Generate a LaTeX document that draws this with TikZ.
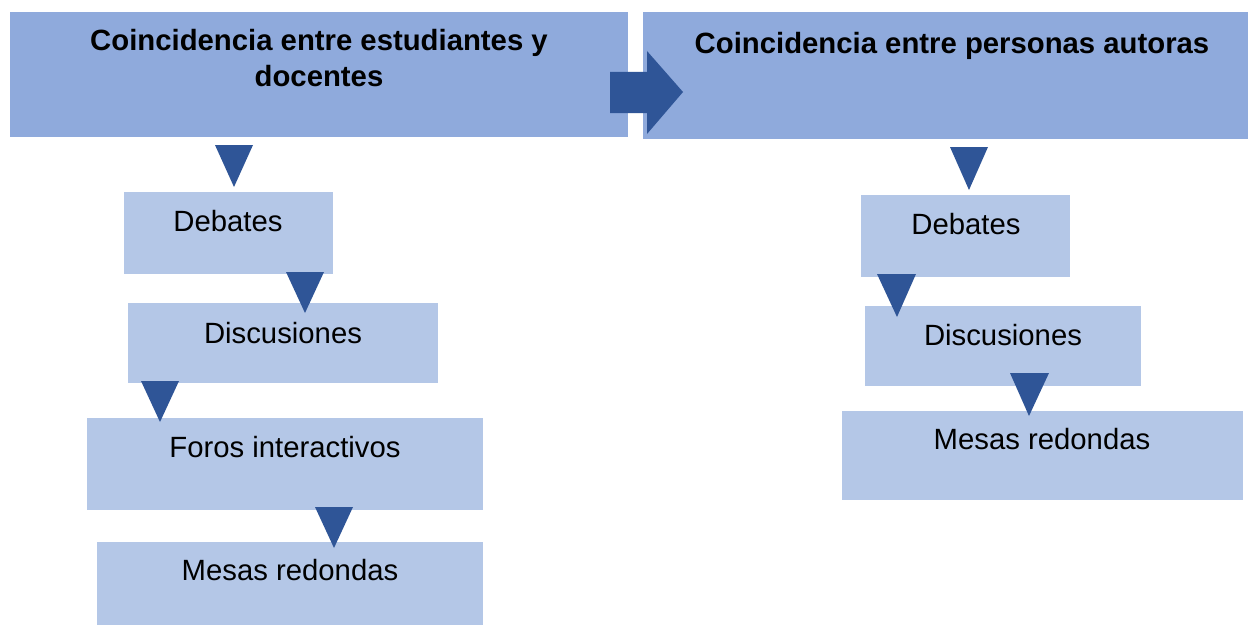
\documentclass[tikz,border=0pt]{standalone}
\usepackage{fontspec}
\setmainfont{Liberation Sans}
\definecolor{hdr}{HTML}{8FAADC}
\definecolor{bx}{HTML}{B4C7E7}
\definecolor{tri}{HTML}{2F5597}
\begin{document}
\begin{tikzpicture}[x=1pt,y=-1pt,
  hdrbox/.style={fill=hdr,draw=none,anchor=north west,inner sep=0},
  itembox/.style={fill=bx,draw=none,anchor=north west,inner sep=0},
  txt/.style={anchor=base,inner sep=0,font=\fontsize{29.3}{38}\selectfont},
  htxt/.style={anchor=base,inner sep=0,font=\fontsize{29.3}{38}\selectfont\bfseries},
  trifill/.style={fill=tri,draw=none}]
\path[use as bounding box] (0,0) rectangle (1248,626);
\fill[white] (0,0) rectangle (1248,626);
% headers
\node[hdrbox,minimum width=618,minimum height=125] (h1) at (10,12) {};
\node[hdrbox,minimum width=605,minimum height=127] (h2) at (643,12) {};
\node[htxt] (h1a) at (319,51) {Coincidencia entre estudiantes y};
\node[htxt] (h1b) at (319,86) {docentes};
\node[htxt] (h2a) at (952,54) {Coincidencia entre personas autoras};
% block arrow between headers
\fill[tri] (610,72) -- (647,72) -- (647,51) -- (683,92) -- (647,134) -- (647,113) -- (610,113) -- cycle;
% left column boxes
\node[itembox,minimum width=209,minimum height=82] (l1) at (124,192) {};
\node[itembox,minimum width=310,minimum height=80] (l2) at (128,303) {};
\node[itembox,minimum width=396,minimum height=92] (l3) at (87,418) {};
\node[itembox,minimum width=386,minimum height=83] (l4) at (97,542) {};
\node[txt] at (228,231) {Debates};
\node[txt] at (283,343) {Discusiones};
\node[txt] at (285,457) {Foros interactivos};
\node[txt] at (290,580) {Mesas redondas};
% right column boxes
\node[itembox,minimum width=209,minimum height=82] (r1) at (861,195) {};
\node[itembox,minimum width=276,minimum height=80] (r2) at (865,306) {};
\node[itembox,minimum width=401,minimum height=89] (r3) at (842,411) {};
\node[txt] at (966,234) {Debates};
\node[txt] at (1003,345) {Discusiones};
\node[txt] at (1042,449) {Mesas redondas};
% triangles
\fill[trifill] (215,145) -- (253,145) -- (234,187) -- cycle;
\fill[trifill] (286,272) -- (324,272) -- (305,313) -- cycle;
\fill[trifill] (141,381) -- (179,381) -- (160,422) -- cycle;
\fill[trifill] (315,507) -- (353,507) -- (334,548) -- cycle;
\fill[trifill] (950,147) -- (988,147) -- (969,190) -- cycle;
\fill[trifill] (877,274) -- (916,274) -- (897,317) -- cycle;
\fill[trifill] (1010,373) -- (1049,373) -- (1029,416) -- cycle;
\end{tikzpicture}
\end{document}
